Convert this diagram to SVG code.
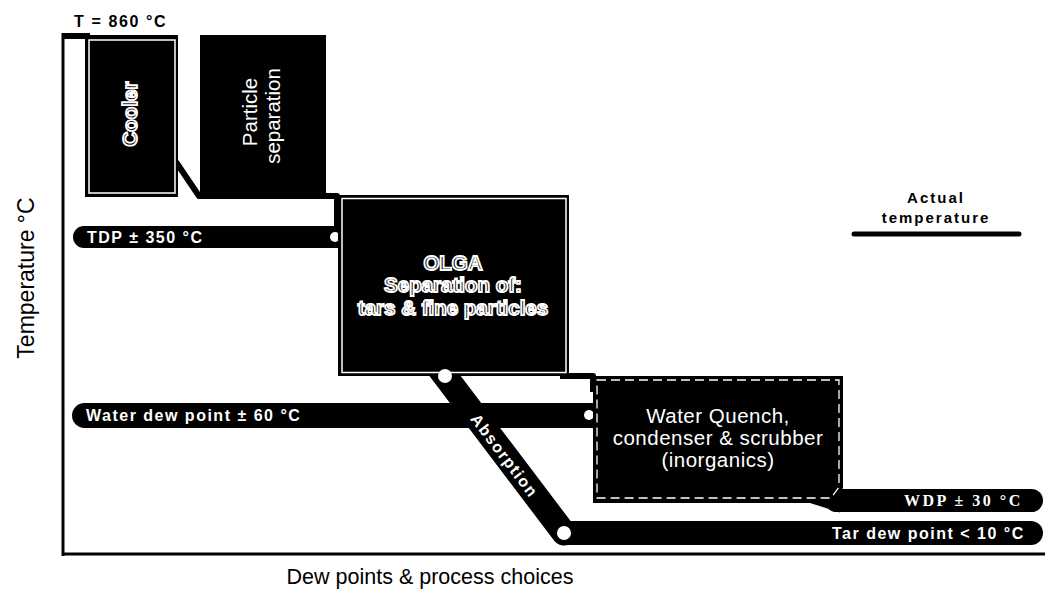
<svg xmlns="http://www.w3.org/2000/svg" width="1045" height="593" viewBox="0 0 1045 593">
<style>
.ln{stroke:#000;stroke-width:6;fill:none;stroke-linejoin:round}
.bar{fill:#000}
.box{fill:#000}
.inner{fill:none;stroke:#fff;stroke-width:1.5}
.dash{fill:none;stroke:#fff;stroke-width:1.3;stroke-dasharray:9 5}
.dot{fill:#fff}
.hollow{font-family:"Liberation Sans",Arial,sans-serif;font-weight:bold;fill:#000;stroke:#fff;stroke-width:1.8}
.wt{font-family:"Liberation Sans",Arial,sans-serif;fill:#fff}
.bt{font-family:"Liberation Sans",Arial,sans-serif;font-weight:bold;fill:#fff;font-size:16px;letter-spacing:1.5px}
.kt{font-family:"Liberation Sans",Arial,sans-serif;fill:#000}
</style>
<rect width="1045" height="593" fill="#fff"/>
<g id="axes">
<line x1="63" y1="33" x2="63" y2="556" stroke="#000" stroke-width="3"/>
<line x1="62" y1="554" x2="1045" y2="554" stroke="#000" stroke-width="3"/>
<text class="kt" font-size="23" text-anchor="middle" transform="translate(34,278) rotate(-90)">Temperature °C</text>
<text class="kt" font-size="21.5" x="430" y="584" text-anchor="middle">Dew points &amp; process choices</text>
<text class="kt" font-size="16" font-weight="bold" letter-spacing="1.6" x="74" y="27">T = 860 °C</text>
</g>
<g id="connectors">
<line class="ln" x1="62" y1="36" x2="90" y2="36"/>
<polyline class="ln" points="176,162 199,196 337,196 337,240"/>
<rect class="bar" x="73" y="226" width="280" height="22" rx="11"/>
<circle class="dot" cx="335" cy="237" r="5"/>
<rect class="bar" x="72" y="403" width="535" height="25" rx="12.5"/>
<circle class="dot" cx="589" cy="415" r="5"/>
<polyline class="ln" points="560,376 593,376 593,392"/>
<line x1="433" y1="360" x2="564" y2="533" stroke="#000" stroke-width="25" stroke-linecap="round"/>
<rect class="bar" x="552" y="521" width="491" height="24" rx="12"/>
<rect class="bar" x="825" y="489" width="218" height="23" rx="11.5"/>
<polygon class="bar" points="810,503 840,489 840,512.5"/>
<text class="bt" x="87" y="243" font-size="17" letter-spacing="2.2">TDP ± 350 °C</text>
<text class="bt" x="86" y="421" letter-spacing="1.3">Water dew point ± 60 °C</text>
<text class="bt" x="832" y="539">Tar dew point &lt; 10 °C</text>
<text x="904" y="506" font-family="'Liberation Serif',serif" font-weight="bold" font-size="16" letter-spacing="2.5" fill="#fff">WDP ± 30 °C</text>
<text class="bt" text-anchor="middle" transform="translate(504,456) rotate(53)" y="5" letter-spacing="1">Absorption</text>
</g>
<g id="cooler">
<rect class="box" x="85" y="35" width="93" height="162"/>
<rect class="inner" x="89" y="40" width="86" height="153"/>
<text class="hollow" font-size="20.5" text-anchor="middle" transform="translate(137,114) rotate(-90)">Cooler</text>
</g>
<g id="particle-separation">
<rect class="box" x="200" y="35" width="126" height="159"/>
<text class="wt" font-size="20.5" text-anchor="middle" transform="translate(257,112) rotate(-90)">Particle</text>
<text class="wt" font-size="20.5" text-anchor="middle" transform="translate(280,116) rotate(-90)">separation</text>
</g>
<g id="olga">
<rect class="box" x="338" y="195" width="231" height="181"/>
<rect class="inner" x="342" y="198.5" width="224" height="174"/>
<text class="hollow" font-size="20.5" text-anchor="middle" x="453" y="270">OLGA</text>
<text class="hollow" font-size="20.5" text-anchor="middle" x="453" y="292">Separation of:</text>
<text class="hollow" font-size="20.5" text-anchor="middle" x="453" y="315">tars &amp; fine particles</text>
</g>
<g id="water-quench">
<path class="box" d="M593,376 H843 V488 L832,503 H593 Z"/>
<path class="dash" d="M597,380 H839 V487 L831,498 H597 Z"/>
<text class="wt" font-size="20.5" letter-spacing="0.5" text-anchor="middle" x="718" y="423">Water Quench,</text>
<text class="wt" font-size="20.5" letter-spacing="0.5" text-anchor="middle" x="718" y="445">condenser &amp; scrubber</text>
<text class="wt" font-size="20.5" letter-spacing="0.5" text-anchor="middle" x="718" y="467">(inorganics)</text>
</g>
<g id="junctions">
<circle class="dot" cx="445" cy="376" r="7"/>
<circle class="dot" cx="564" cy="533" r="7"/>
</g>
<g id="legend">
<text class="kt" font-size="15" font-weight="bold" letter-spacing="2" text-anchor="middle" x="936" y="203">Actual</text>
<text class="kt" font-size="15" font-weight="bold" letter-spacing="2" text-anchor="middle" x="936" y="223">temperature</text>
<line x1="854" y1="234" x2="1019" y2="234" stroke="#000" stroke-width="5" stroke-linecap="round"/>
</g>
</svg>
